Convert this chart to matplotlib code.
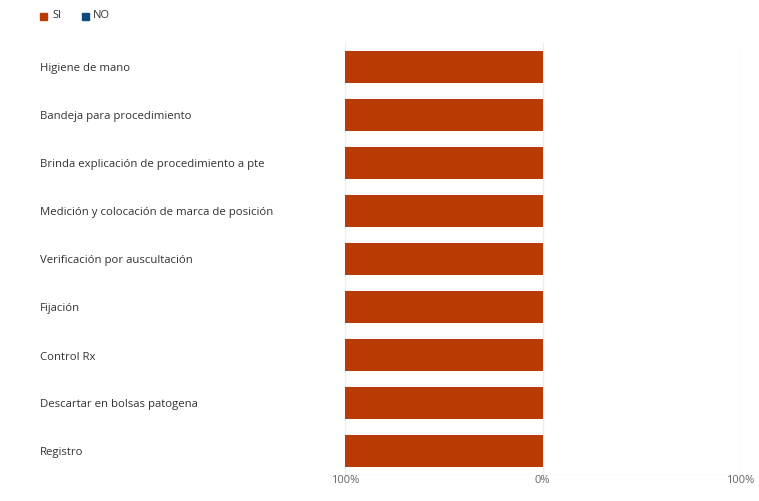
import matplotlib.pyplot as plt
import matplotlib.transforms as mtransforms
from matplotlib.patches import Rectangle

categorias = ["Higiene de mano", "Bandeja para procedimiento",
              "Brinda explicación de procedimiento a pte",
              "Medición y colocación de marca de posición",
              "Verificación por auscultación", "Fijación", "Control Rx",
              "Descartar en bolsas patogena", "Registro"]
si = [100, 100, 100, 100, 100, 100, 100, 100, 100]
no = [0, 0, 0, 0, 0, 0, 0, 0, 0]
ticks = [-100, 0, 100]
tick_labels = ["100%", "0%", "100%"]

color_si = "#BA3B02"
color_no = "#0E4A80"

plt.rcParams['font.family'] = ['Open Sans', 'DejaVu Sans']

fig = plt.figure(figsize=(7.59, 5.01), dpi=100)
ax = fig.add_axes([345 / 759, 26 / 501, 395 / 759, 432 / 501])

y = list(range(len(categorias)))
ax.barh(y, [-v for v in si], height=0.65, color=color_si, zorder=3)
ax.barh(y, no, height=0.65, color=color_no, zorder=3)

ax.set_xlim(-100, 100)
ax.set_ylim(len(categorias) - 0.5, -0.5)
for t in ticks:
    ax.axvline(t, color="#EEEEEE", lw=1, zorder=1)
ax.axhline(len(categorias) - 0.5, color="#E6E6E6", lw=1, zorder=1)

ax.set_xticks(ticks)
ax.set_xticklabels(tick_labels, fontsize=8, color="#666666")
ax.tick_params(axis="x", length=0, pad=0)
ax.set_yticks([])
for s in ax.spines.values():
    s.set_visible(False)

trans = mtransforms.blended_transform_factory(fig.transFigure, ax.transData)
trans = trans + mtransforms.ScaledTranslation(0, -2 / 100, fig.dpi_scale_trans)
for i, c in enumerate(categorias):
    ax.text(40 / 759, i, c, transform=trans, ha="left", va="center",
            fontsize=8.2, color="#333333")

# leyenda
fig.patches.append(Rectangle((40 / 759, 1 - 20 / 501), 7 / 759, 7 / 501,
                             transform=fig.transFigure, color=color_si))
fig.text(52 / 759, 1 - 16 / 501, "SI", fontsize=8, color="#333333", va="center")
fig.patches.append(Rectangle((82 / 759, 1 - 20 / 501), 7 / 759, 7 / 501,
                             transform=fig.transFigure, color=color_no))
fig.text(93 / 759, 1 - 16 / 501, "NO", fontsize=8, color="#333333", va="center")

fig.savefig("out.png", dpi=100)
